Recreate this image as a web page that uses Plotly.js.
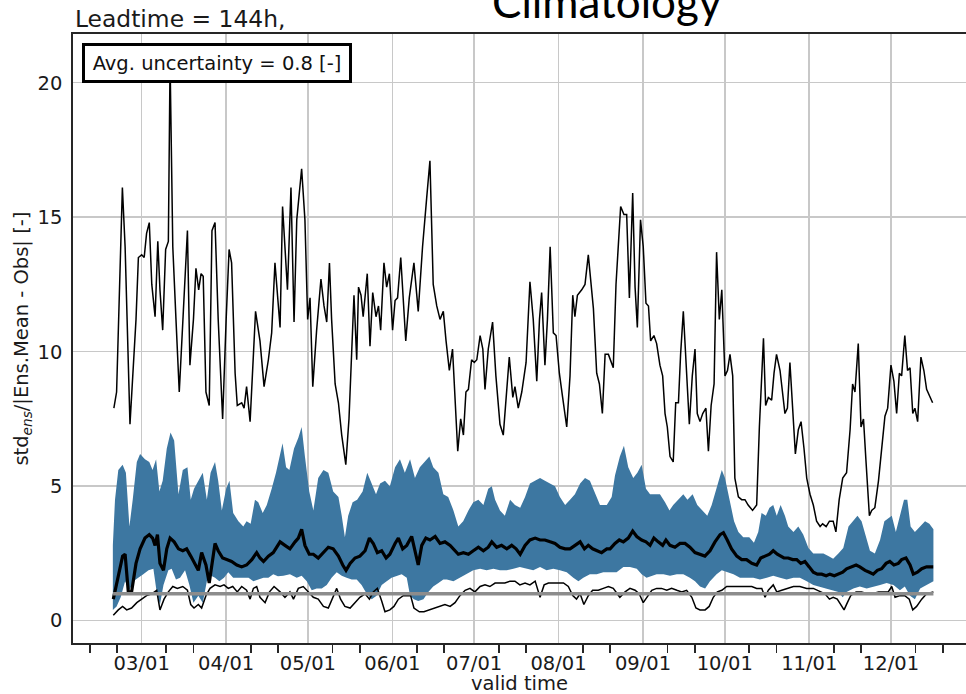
<!DOCTYPE html>
<html>
<head>
<meta charset="utf-8">
<script src="https://cdn.plot.ly/plotly-3.0.1.min.js"></script>
<style>
  html, body { margin: 0; padding: 0; background: #ffffff; }
  #chart { width: 966px; height: 694px; }
</style>
</head>
<body>
<div id="chart"></div>
<script>
// Time axis: values are given as days relative to 1 March 2019.
const originDate = Date.UTC(2019, 2, 1);

const monthTicks  = ['2019-03-01','2019-04-01','2019-05-01','2019-06-01','2019-07-01',
                     '2019-08-01','2019-09-01','2019-10-01','2019-11-01','2019-12-01'];
const monthLabels = ['03/01','04/01','05/01','06/01','07/01','08/01','09/01','10/01','11/01','12/01'];
const minorTicks  = ['2019-02-10','2019-02-20','2019-03-10','2019-03-20','2019-04-10','2019-04-20',
                     '2019-05-10','2019-05-20','2019-06-10','2019-06-20','2019-07-10','2019-07-20',
                     '2019-08-10','2019-08-20','2019-09-10','2019-09-20','2019-10-10','2019-10-20',
                     '2019-11-10','2019-11-20','2019-12-10','2019-12-20'];
const yTicks = [0, 5, 10, 15, 20];

const leadtimeHours = 144;
const avgUncertainty = 0.8;
const referenceRatio = 1.0;

// Climatological ratio (thin upper line)
const climDay = [-10.2,-9.2,-7.1,-6.1,-4.3,-3.1,-2.1,-1.2,0.0,0.9,1.8,2.8,3.7,4.9,5.9,6.7,7.7,8.8,9.8,10.4,
  11.4,12.6,13.8,15.3,16.8,17.7,19.0,19.9,20.9,21.8,22.6,23.6,24.8,25.8,26.9,28.1,29.7,31.0,32.1,33.0,
  34.3,35.1,36.7,37.6,38.5,39.8,41.8,43.4,44.9,46.5,47.7,48.9,50.8,51.7,53.5,54.8,55.9,56.9,58.7,59.9,
  60.9,61.8,62.8,64.2,65.8,66.9,67.9,68.9,69.7,71.0,72.2,73.4,74.9,76.1,77.1,77.9,78.9,79.6,80.5,81.3,
  82.8,83.8,84.8,86.0,86.9,87.7,88.9,89.9,90.9,92.1,93.0,93.9,95.1,96.0,96.9,98.2,99.9,101.5,103.1,104.6,
  105.8,107.0,108.3,109.5,110.7,111.7,112.9,114.1,115.0,116.0,117.1,118.1,119.0,119.9,121.1,122.1,123.0,124.2,125.2,126.0,
  127.2,128.8,130.0,131.5,132.7,134.0,134.9,136.2,137.0,138.2,139.5,141.1,142.5,143.7,145.0,146.0,146.8,148.0,148.9,149.9,
  151.1,152.1,153.3,154.5,156.0,157.2,158.2,159.0,159.9,161.5,162.7,163.9,165.8,167.0,168.0,169.1,170.1,171.3,172.1,173.1,
  174.1,175.8,177.0,178.0,179.0,180.2,181.1,181.9,183.1,184.1,185.1,186.0,186.8,188.0,189.0,190.2,191.2,192.1,192.9,193.9,
  195.1,196.0,197.0,197.8,198.8,200.0,201.0,202.1,203.1,203.9,204.9,205.9,207.1,208.0,209.0,210.1,211.0,212.0,212.9,214.1,
  215.0,215.9,216.9,217.7,219.0,220.2,221.4,222.6,224.2,225.7,226.7,228.2,229.0,230.0,231.2,232.1,233.0,234.3,235.3,236.1,
  237.0,237.9,238.9,239.9,241.0,242.0,243.1,244.1,245.3,246.5,247.7,249.0,249.9,251.2,252.4,253.8,254.8,256.0,257.3,258.7,
  260.0,260.9,261.8,263.0,264.0,264.9,265.8,267.1,267.9,269.1,270.4,271.6,272.8,273.8,275.0,276.1,277.1,278.1,278.9,280.1,
  281.1,282.0,283.0,283.8,284.8,286.0,287.1,288.1,289.0,290.3];
const climVal = [7.9,8.5,16.1,13.9,7.3,9.2,11.2,13.5,13.6,13.5,14.4,14.8,12.5,11.3,14.1,12.3,10.8,13.8,14.1,20.8,
  13.9,11.2,8.5,11.5,14.5,9.5,11.2,13.1,12.3,12.9,12.8,8.5,8.0,14.5,14.8,11.2,7.5,11.2,13.8,13.3,
  9.2,8.0,8.1,7.9,8.7,7.4,11.5,10.4,8.7,9.7,10.7,13.3,10.9,15.4,12.3,16.1,11.1,14.9,16.8,14.9,
  11.2,12.0,8.7,10.8,12.7,11.7,11.1,13.3,11.2,8.8,8.1,6.9,5.8,7.5,10.1,12.1,9.7,12.4,12.1,11.3,
  12.9,10.2,12.2,11.3,11.7,10.8,13.3,12.4,12.9,10.8,11.9,12.0,13.5,11.7,10.4,12.0,13.3,11.5,13.9,15.7,
  17.1,12.5,11.7,11.2,11.5,10.4,9.3,10.1,8.0,6.3,7.5,6.9,8.5,8.6,9.7,9.6,9.7,10.6,10.1,8.6,
  10.1,11.1,9.1,7.3,6.9,8.5,9.8,8.3,8.7,7.9,8.5,9.6,12.6,11.2,8.9,11.2,12.2,9.5,11.2,13.9,
  10.7,10.6,9.2,8.3,7.2,9.1,12.1,11.3,12.1,12.3,12.5,13.6,11.6,9.2,8.8,7.7,9.9,9.9,9.7,9.4,
  12.5,15.4,15.1,15.1,12.0,15.9,12.4,10.9,14.9,13.9,11.8,11.7,10.4,10.6,10.3,9.5,9.1,7.7,7.2,6.1,
  5.9,8.1,8.1,9.9,11.5,9.1,7.3,9.1,10.1,7.7,7.4,7.7,7.9,6.3,8.0,8.8,13.7,11.2,12.3,9.1,
  9.3,9.9,9.1,5.3,4.6,4.5,4.5,4.3,4.1,4.3,7.2,10.5,8.0,8.3,8.2,9.2,9.9,9.3,8.5,7.7,
  7.9,9.6,7.9,6.2,7.1,7.4,6.4,5.3,4.7,4.3,3.7,3.5,3.6,3.5,3.7,3.7,3.3,4.5,5.3,5.5,
  7.1,8.8,8.5,10.3,7.2,7.5,6.0,3.9,4.1,4.2,5.2,6.4,7.6,7.9,9.5,8.9,7.7,9.2,9.1,10.6,
  9.3,9.4,7.7,7.9,7.4,9.8,9.3,8.6,8.4,8.1];

// Ensemble spread envelope: upper edge
const bandTopDay = [-10.6,-9.8,-8.6,-7.0,-5.8,-4.5,-3.3,-1.8,-0.6,1.2,2.8,4.0,5.3,6.5,7.7,9.2,10.6,11.9,13.5,15.1,
  16.8,18.0,19.2,20.8,22.4,23.9,25.3,26.9,28.1,29.4,31.0,32.2,33.6,35.5,37.3,38.5,40.0,41.6,42.8,44.4,
  45.9,47.7,49.3,51.7,53.0,54.2,55.9,57.5,58.7,59.9,61.5,63.0,64.8,66.7,68.5,70.3,72.2,73.4,74.6,75.8,
  77.4,79.1,81.1,82.8,84.4,86.0,87.5,89.3,91.1,93.0,94.8,96.6,98.5,100.3,102.1,104.0,105.6,107.0,108.9,110.7,
  112.5,114.4,116.2,118.0,119.9,121.7,123.6,125.4,127.2,128.5,129.7,131.5,133.3,135.2,137.0,138.9,140.7,142.5,144.4,146.2,
  148.0,149.9,151.7,153.5,155.4,157.2,159.0,160.9,162.7,164.5,166.4,168.2,170.7,172.5,173.7,175.5,177.0,178.6,180.4,181.9,
  183.5,185.1,186.6,188.4,190.2,192.1,193.7,195.1,197.0,198.8,200.3,202.2,203.9,205.9,207.6,209.2,211.0,212.9,214.1,215.7,
  217.4,219.0,220.8,223.0,224.7,226.3,227.5,229.1,230.4,231.8,233.1,234.5,236.1,237.3,239.2,241.0,242.8,244.7,246.5,248.3,
  250.2,252.0,253.8,255.7,257.5,259.4,260.9,262.7,264.2,265.8,267.3,269.1,271.0,272.6,274.0,275.3,276.8,278.3,279.8,281.0,
  282.2,283.8,285.7,287.5,289.1,290.6];
const bandTopVal = [2.8,4.5,5.6,5.8,5.5,3.5,4.5,5.9,6.2,6.0,5.9,5.6,6.0,4.8,5.2,6.4,7.0,6.7,4.7,5.6,
  5.7,4.5,4.9,5.2,5.5,4.5,5.5,5.9,5.2,4.1,4.9,5.2,4.0,3.7,3.5,3.7,3.6,4.5,4.4,4.0,
  4.3,4.9,5.5,6.6,5.7,5.6,6.4,6.8,7.2,6.1,4.8,4.1,5.3,5.6,5.5,4.8,4.6,3.9,3.1,3.9,
  4.4,4.5,4.8,5.5,5.1,4.7,5.1,5.2,5.0,5.7,6.0,5.5,6.0,5.3,5.7,5.9,6.1,5.7,5.5,4.7,
  4.6,4.1,3.5,3.7,4.1,4.4,4.5,4.3,4.9,5.0,4.5,4.1,3.9,4.5,4.3,4.2,4.6,5.1,5.2,5.3,
  5.2,5.1,5.0,4.6,4.3,4.5,4.7,5.1,5.3,5.2,4.7,4.3,4.3,4.6,5.4,6.1,6.5,5.7,5.3,5.5,
  5.8,4.9,4.7,4.7,4.7,4.4,4.1,4.3,4.5,4.7,4.5,4.7,4.3,4.1,3.9,4.3,4.9,5.6,5.3,4.5,
  3.7,3.3,3.1,3.1,2.9,3.3,4.0,3.9,4.2,4.3,3.9,4.3,3.9,3.5,3.3,3.5,3.2,2.7,2.5,2.5,
  2.5,2.4,2.3,2.5,2.7,3.5,3.7,3.9,3.7,3.1,2.6,2.5,3.0,3.7,3.8,3.9,3.3,3.9,4.5,4.5,
  3.5,3.3,3.5,3.7,3.6,3.4];

// Ensemble spread envelope: lower edge
const bandLowDay = [-10.6,-9.2,-7.7,-6.1,-4.5,-3.1,-1.2,0.6,2.5,4.3,5.5,6.7,8.0,9.8,11.0,12.6,14.1,15.9,17.5,19.0,
  20.8,22.4,23.9,25.5,26.9,28.5,30.2,31.8,33.6,35.5,37.3,39.2,41.0,42.8,44.7,46.5,48.3,50.0,52.0,54.4,
  56.9,58.7,60.6,62.4,64.2,66.1,67.9,69.7,71.6,73.4,75.2,77.1,78.9,80.7,82.6,84.4,86.2,88.1,89.9,91.7,
  93.6,95.4,97.3,98.5,99.9,101.5,103.4,105.2,107.0,108.9,110.7,112.0,114.4,116.8,119.3,121.7,124.2,126.6,129.1,131.5,
  134.0,136.4,138.8,141.3,143.7,146.2,148.6,151.1,153.5,156.0,158.4,160.3,162.1,164.5,167.0,169.4,171.9,174.3,176.8,179.2,
  181.7,183.5,185.3,187.2,189.0,191.5,193.9,196.4,198.8,201.2,203.1,204.9,206.8,208.6,211.0,212.9,214.7,217.2,219.6,222.0,
  224.5,226.9,229.4,231.8,234.3,236.7,239.2,241.6,244.1,246.5,248.9,251.4,253.8,255.7,257.3,258.7,261.2,263.6,266.1,268.5,
  271.0,273.4,275.9,278.3,280.1,282.0,283.8,285.7,288.1,290.6];
const bandLowVal = [0.4,0.53,0.87,1.47,1.13,1.47,1.6,1.73,1.87,1.93,1.07,0.6,1.33,1.87,1.93,1.53,1.6,1.87,1.33,0.67,
  0.93,0.67,1.47,1.67,1.6,1.47,1.6,1.8,1.6,1.6,1.6,1.6,1.47,1.53,1.6,1.6,1.73,1.65,1.67,1.73,
  1.6,1.67,1.47,1.13,1.2,1.2,1.33,1.6,1.8,1.67,1.6,1.53,1.53,1.33,1.0,0.8,0.93,1.33,1.47,1.6,
  1.67,1.73,1.6,0.93,0.8,0.73,0.8,1.07,1.27,1.4,1.53,1.53,1.47,1.6,1.73,1.87,1.93,1.87,1.93,1.87,
  1.87,1.93,2.0,1.93,1.87,2.0,1.87,1.93,1.87,1.8,1.6,1.47,1.6,1.73,1.73,1.8,1.8,1.8,2.0,2.0,
  1.93,1.73,1.6,1.67,1.73,1.73,1.67,1.73,1.73,1.6,1.47,1.27,1.2,1.47,1.73,1.87,1.8,1.73,1.6,1.6,
  1.6,1.53,1.6,1.67,1.6,1.53,1.6,1.6,1.47,1.33,1.27,1.2,1.13,1.07,0.87,1.07,1.2,1.27,1.2,1.27,
  1.33,1.4,1.33,1.13,1.27,0.93,0.8,1.2,1.33,1.47];

// Ensemble median ratio (thick line)
const medDay = [-10.4,-8.6,-7.0,-6.1,-4.9,-3.7,-2.1,-0.6,1.2,2.8,4.0,4.9,5.8,6.7,8.0,9.2,10.4,11.9,13.5,15.1,
  16.5,18.0,19.6,20.8,22.0,23.6,24.8,26.1,26.9,28.1,29.7,31.2,33.0,34.9,36.7,38.5,40.4,42.2,43.4,44.7,
  46.5,48.3,50.8,52.6,54.4,56.3,57.5,58.7,59.9,61.5,63.0,64.8,66.7,68.5,70.3,72.2,73.8,75.0,76.5,78.3,
  80.1,82.0,83.6,85.0,86.5,88.1,89.7,91.1,93.0,94.2,95.8,97.3,99.1,100.3,101.5,102.8,104.3,105.8,107.7,109.5,
  111.3,113.2,115.0,116.2,118.1,119.9,121.7,123.6,125.4,127.2,128.5,130.3,132.1,134.0,135.8,137.4,138.9,140.7,142.5,144.4,
  146.2,148.0,149.9,151.7,153.5,155.4,157.2,159.0,160.9,162.5,163.9,165.5,167.0,168.8,170.7,171.9,173.7,175.3,176.8,178.6,
  180.2,181.7,183.5,185.1,186.6,188.0,189.6,191.2,192.4,193.9,195.7,197.6,199.4,201.2,203.1,204.9,206.7,208.6,210.4,212.3,
  213.5,214.9,216.5,218.4,220.2,222.0,223.9,225.7,227.2,228.8,230.4,231.8,233.3,235.7,237.3,238.9,240.4,241.9,243.4,245.0,
  246.5,248.0,249.6,251.2,252.6,254.2,255.7,257.3,258.7,260.6,262.2,263.6,265.5,267.1,268.5,270.0,271.6,273.2,274.6,276.1,
  277.7,278.9,280.5,282.0,283.2,284.7,286.3,288.1,290.5];
const medVal = [0.8,1.6,2.4,2.47,1.07,1.07,2.13,2.67,3.07,3.2,3.07,2.8,3.2,2.13,1.87,2.67,3.07,2.93,2.67,2.6,
  2.67,2.4,2.13,1.87,2.53,2.07,1.4,2.4,2.87,2.6,2.33,2.27,2.2,2.07,2.0,2.07,2.27,2.53,2.33,2.2,
  2.4,2.53,2.93,2.8,2.67,2.93,3.07,3.4,2.8,2.47,2.47,2.33,2.53,2.73,2.67,2.4,2.07,1.87,2.13,2.33,
  2.4,2.6,3.07,2.87,2.53,2.6,2.33,2.47,2.87,3.07,2.67,2.8,3.13,2.6,2.07,2.8,3.07,3.0,3.13,2.87,
  2.93,2.8,2.6,2.47,2.53,2.47,2.6,2.73,2.6,2.73,2.93,2.73,2.8,2.67,2.8,2.67,2.47,2.8,3.0,3.07,
  3.0,3.0,2.93,2.87,2.73,2.67,2.67,2.8,2.93,2.67,2.8,2.67,2.6,2.53,2.67,2.67,2.87,3.0,2.93,3.07,
  3.33,3.13,3.0,2.93,2.8,3.07,2.93,2.8,3.0,2.8,2.73,2.87,2.87,2.73,2.53,2.47,2.4,2.6,2.93,3.2,
  3.27,3.0,2.67,2.4,2.27,2.27,2.13,2.07,2.33,2.4,2.47,2.6,2.47,2.33,2.33,2.27,2.27,2.13,2.2,2.0,
  1.8,1.73,1.73,1.67,1.73,1.67,1.73,1.8,1.93,2.0,2.07,2.0,1.87,1.8,1.73,1.87,1.93,2.13,2.2,2.07,
  2.13,2.27,2.33,2.07,1.73,1.8,1.93,2.0,2.0];

// Ensemble-mean ratio (thin lower line)
const meanDay = [-10.4,-8.6,-7.0,-5.5,-3.7,-1.8,0.0,1.8,3.7,5.5,6.7,8.2,9.8,11.4,13.1,15.1,16.8,18.0,19.2,20.8,
  22.0,23.6,25.1,26.9,28.8,30.2,31.8,33.4,35.1,36.7,38.5,39.8,41.0,42.2,43.4,45.3,46.9,48.6,50.8,52.6,
  54.4,55.7,57.5,59.3,61.2,63.0,64.8,66.7,68.5,70.3,71.6,73.0,74.6,76.5,78.3,80.1,82.0,83.6,85.0,86.5,
  88.1,89.3,91.1,92.6,94.2,96.0,97.5,98.7,99.9,101.9,103.6,105.6,107.7,109.5,111.3,113.2,115.0,116.8,118.7,120.5,
  122.3,124.2,126.0,127.8,129.7,131.5,133.3,135.2,137.0,138.8,140.7,142.5,144.4,146.2,147.7,149.3,151.1,152.9,154.8,156.6,
  158.2,159.6,160.9,162.3,163.9,165.5,167.6,169.4,171.3,173.1,175.5,177.4,179.2,181.1,182.6,184.1,185.6,187.2,189.0,190.8,
  192.7,194.5,196.4,198.2,200.0,201.9,203.4,204.9,206.8,208.3,209.8,211.3,212.9,214.7,216.5,218.4,220.2,222.0,223.9,225.7,
  227.6,228.8,230.0,231.8,233.1,234.9,236.7,239.2,241.6,244.1,246.5,248.9,250.8,252.4,253.8,255.3,256.5,257.8,259.0,260.2,
  262.2,264.2,266.3,268.3,270.4,272.2,274.0,275.3,276.5,278.3,280.1,281.7,283.0,284.4,286.3,288.1,290.6];
const meanVal = [0.2,0.4,0.53,0.4,0.47,0.67,0.8,0.93,1.0,1.13,0.4,0.8,1.07,1.27,1.2,1.27,1.13,0.6,0.47,0.6,
  0.47,0.93,1.2,1.33,1.27,1.33,1.2,1.27,1.07,1.27,1.13,0.8,1.2,1.27,0.87,0.67,1.07,1.27,1.07,0.87,
  1.07,0.8,1.2,1.27,1.07,0.87,0.8,0.53,0.47,0.93,1.2,0.8,0.53,0.47,0.67,0.87,1.0,0.8,1.07,1.2,
  0.73,0.33,0.4,0.53,0.8,0.93,0.93,0.93,0.47,0.33,0.33,0.4,0.47,0.53,0.6,0.53,0.67,0.93,1.13,1.2,
  1.07,1.27,1.33,1.27,1.4,1.4,1.4,1.47,1.47,1.33,1.4,1.33,1.47,0.87,1.33,1.4,1.4,1.4,1.4,1.27,
  0.93,0.8,1.0,0.6,0.93,1.13,1.13,1.2,1.27,1.2,0.87,1.07,1.2,1.13,1.0,0.67,0.87,1.13,1.2,1.2,
  1.13,1.2,1.13,1.07,1.13,0.87,0.47,0.4,0.4,0.53,0.87,1.07,1.13,1.27,1.27,1.27,1.27,1.27,1.27,1.2,
  1.2,0.87,1.13,1.33,1.07,1.13,1.2,1.27,1.27,1.2,1.2,1.07,1.0,0.8,0.87,0.8,0.6,0.4,0.67,0.93,
  1.07,1.07,1.0,1.0,1.07,1.07,1.07,1.27,0.87,0.93,0.93,0.8,0.4,0.53,0.8,1.0,1.07];

// Reference ratio of one over the whole period
const refDay = [-10.5, 290.6];
const refVal = [referenceRatio, referenceRatio];

function toDate(d) {
  const t = new Date(originDate + Math.round(d * 24) * 3600000);
  return t.toISOString().slice(0, 19).replace('T', ' ');
}
const dates = arr => arr.map(toDate);

const bandX = dates(bandTopDay).concat(dates(bandLowDay).reverse());
const bandY = bandTopVal.concat(bandLowVal.slice().reverse());

const ink = '#1a1a1a';
const axisFont = { family: 'DejaVu Sans', size: 19.5, color: ink };

const traces = [
  { x: bandX, y: bandY, type: 'scatter', mode: 'lines', fill: 'toself',
    fillcolor: '#3d77a1', line: { width: 0, color: '#3d77a1' }, hoverinfo: 'skip' },
  { x: dates(refDay), y: refVal, xaxis: 'x2', type: 'scatter', mode: 'lines',
    line: { color: '#8c8c8c', width: 3.5 } },
  { x: dates(climDay), y: climVal, type: 'scatter', mode: 'lines',
    line: { color: '#000000', width: 1.5 } },
  { x: dates(meanDay), y: meanVal, type: 'scatter', mode: 'lines',
    line: { color: '#000000', width: 1.5 } },
  { x: dates(medDay), y: medVal, type: 'scatter', mode: 'lines',
    line: { color: '#000000', width: 3.2 } }
];

const xRange = ['2019-02-03 19:00', '2019-12-28 13:00'];

const layout = {
  width: 966, height: 694,
  margin: { l: 73, r: 0, t: 34, b: 51, pad: 0 },
  paper_bgcolor: '#ffffff', plot_bgcolor: '#ffffff',
  showlegend: false,
  xaxis: {
    type: 'date', range: xRange,
    tickvals: monthTicks, ticktext: monthLabels,
    ticks: 'outside', ticklen: 2, tickcolor: 'rgba(0,0,0,0)',
    showgrid: true, gridcolor: '#c8c8c8', gridwidth: 1.6,
    showline: true, linecolor: '#262626', linewidth: 1.8, mirror: true,
    zeroline: false, tickfont: axisFont
  },
  xaxis2: {
    type: 'date', range: xRange, overlaying: 'x', anchor: 'y', side: 'bottom',
    tickvals: minorTicks, showticklabels: false,
    ticks: 'outside', ticklen: 9, tickwidth: 1.8, tickcolor: '#262626',
    showgrid: false, showline: false, zeroline: false
  },
  yaxis: {
    range: [-0.83, 21.81], tickvals: yTicks,
    ticks: 'outside', ticklen: 5, tickcolor: 'rgba(0,0,0,0)',
    showgrid: true, gridcolor: '#c8c8c8', gridwidth: 1.6,
    showline: true, linecolor: '#262626', linewidth: 1.8, mirror: false,
    zeroline: false, tickfont: axisFont
  },
  annotations: [
    { xref: 'paper', yref: 'paper', x: 0.0097, y: 0.9847, xanchor: 'left', yanchor: 'top',
      text: 'Avg. uncertainty = ' + avgUncertainty.toFixed(1) + ' [-]', showarrow: false,
      font: { family: 'DejaVu Sans', size: 19.5, color: '#111111' },
      bgcolor: '#ffffff', bordercolor: '#000000', borderwidth: 3, borderpad: 4,
      width: 256, height: 26 },
    { xref: 'paper', yref: 'paper', x: 0, y: 1.0246, xanchor: 'left', yanchor: 'middle',
      text: 'Leadtime = ' + leadtimeHours + 'h,', showarrow: false,
      font: { family: 'DejaVu Sans', size: 23.4, color: ink } },
    { xref: 'paper', yref: 'paper', x: 0.598, y: 1.054, xanchor: 'center', yanchor: 'middle',
      text: 'Climatology', showarrow: false,
      font: { family: 'Lato', size: 44, color: '#000000' } },
    { xref: 'paper', yref: 'paper', x: -0.057, y: 0.5, xanchor: 'center', yanchor: 'middle',
      textangle: -90, showarrow: false,
      text: 'std<sub><i>ens</i></sub>/|Ens.Mean - Obs| [-]',
      font: { family: 'DejaVu Sans', size: 19.5, color: ink } },
    { xref: 'paper', yref: 'paper', x: 0.5, y: -0.0657, xanchor: 'center', yanchor: 'middle',
      text: 'valid time', showarrow: false,
      font: { family: 'DejaVu Sans', size: 19.5, color: ink } }
  ]
};

Plotly.newPlot('chart', traces, layout, { staticPlot: true, displayModeBar: false });
</script>
</body>
</html>
